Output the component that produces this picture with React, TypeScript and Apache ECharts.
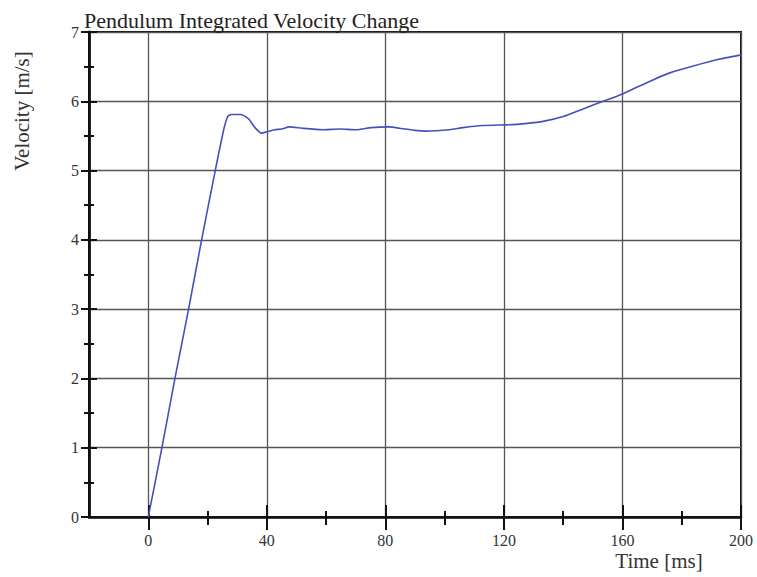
import React, { useEffect, useRef } from "react";
import * as echarts from "echarts";

const timeMs = [0, 4.6, 9.0, 13.6, 18.0, 22.6, 25.5, 26.8, 28, 31, 32.4, 34, 36, 38.2, 40, 42.6, 45, 47.6, 52, 58.8, 64.5, 70.2, 75.2, 81.4, 84.8, 90, 93.8, 101.7, 106.2, 113, 120.8, 125.3, 133.2, 140, 146.7, 153.5, 160.2, 169.3, 176, 183.9, 191.8, 200];
const velocity = [0, 1, 2, 3, 4, 5, 5.6, 5.78, 5.81, 5.81, 5.79, 5.74, 5.62, 5.54, 5.56, 5.59, 5.6, 5.63, 5.61, 5.59, 5.6, 5.59, 5.62, 5.63, 5.61, 5.58, 5.57, 5.59, 5.62, 5.65, 5.66, 5.67, 5.71, 5.78, 5.89, 6.0, 6.11, 6.29, 6.41, 6.51, 6.6, 6.67];

const xMajorTicks = [0, 40, 80, 120, 160, 200];
const xMinorTicks = [20, 60, 100, 140, 180];

const titleText = "Pendulum Integrated Velocity Change";
const xName = "Time [ms]";
const yName = "Velocity [m/s]";

const SERIF = "'Liberation Serif', 'Times New Roman', serif";

export default function App() {
  const ref = useRef<HTMLDivElement>(null);
  useEffect(() => {
    const chart = echarts.init(ref.current!, null, { renderer: "svg" });
    const data = timeMs.map((t, i) => [t, velocity[i]]);
    const baseX = { type: "value", min: -20, max: 200, position: "bottom" };
    const baseY = { type: "value", min: 0, max: 7, interval: 1, position: "left" };
    const tickStyle = { color: "#111", width: 2 };
    chart.setOption({
      animation: false,
      backgroundColor: "#fff",
      title: {
        text: titleText,
        left: 79,
        top: 4,
        textStyle: { fontFamily: SERIF, fontSize: 22, fontWeight: "normal", color: "#222" },
      },
      grid: {
        left: 89,
        top: 32,
        right: 16,
        bottom: 60,
        show: true,
        borderColor: "#111",
        borderWidth: 2,
        backgroundColor: "transparent",
      },
      xAxis: [
        {
          ...baseX,
          axisLine: { show: true, onZero: false, lineStyle: { color: "#111", width: 2.5 } },
          axisTick: { show: true, customValues: xMajorTicks, length: 13, inside: false, lineStyle: tickStyle },
          axisLabel: { customValues: xMajorTicks, fontFamily: SERIF, fontSize: 16, color: "#333", margin: 15 },
          splitLine: { show: true, lineStyle: { color: "#555", width: 1.3 } },
        },
        {
          ...baseX,
          axisLine: { show: false, onZero: false },
          axisTick: { show: true, customValues: xMajorTicks, length: 12, inside: true, lineStyle: tickStyle },
          axisLabel: { show: false },
          splitLine: { show: false },
        },
        {
          ...baseX,
          axisLine: { show: false, onZero: false },
          axisTick: { show: true, customValues: xMinorTicks, length: 8, inside: false, lineStyle: tickStyle },
          axisLabel: { show: false },
          splitLine: { show: false },
        },
        {
          ...baseX,
          axisLine: { show: false, onZero: false },
          axisTick: { show: true, customValues: xMinorTicks, length: 6, inside: true, lineStyle: tickStyle },
          axisLabel: { show: false },
          splitLine: { show: false },
        },
      ],
      yAxis: [
        {
          ...baseY,
          axisLine: { show: true, onZero: false, lineStyle: { color: "#111", width: 2.8 } },
          axisTick: { show: true, length: 8, inside: false, lineStyle: tickStyle },
          minorTick: { show: true, splitNumber: 2, length: 5, lineStyle: tickStyle },
          axisLabel: { fontFamily: SERIF, fontSize: 16, color: "#333", margin: 10 },
          splitLine: { show: true, lineStyle: { color: "#555", width: 1.3 } },
        },
        {
          ...baseY,
          axisLine: { show: false, onZero: false },
          axisTick: { show: true, length: 8, inside: true, lineStyle: tickStyle },
          minorTick: { show: true, splitNumber: 2, length: 5, lineStyle: tickStyle },
          axisLabel: { show: false },
          splitLine: { show: false },
        },
      ],
      graphic: [
        {
          type: "text",
          x: 22,
          y: 111,
          rotation: Math.PI / 2,
          style: {
            text: yName,
            fontFamily: SERIF,
            fontSize: 21,
            fill: "#333",
            align: "center",
            verticalAlign: "middle",
          },
        },
        {
          type: "text",
          x: 659,
          y: 561,
          style: {
            text: xName,
            fontFamily: SERIF,
            fontSize: 21,
            fill: "#333",
            align: "center",
            verticalAlign: "middle",
          },
        },
      ],
      series: [
        {
          type: "line",
          xAxisIndex: 0,
          yAxisIndex: 0,
          data,
          smooth: 0.2,
          showSymbol: false,
          lineStyle: { color: "#4650bd", width: 1.6 },
          z: 5,
        },
      ],
    });
    return () => chart.dispose();
  }, []);
  return <div ref={ref} style={{ position: "absolute", left: 0, top: 0, width: 757, height: 577 }} />;
}
